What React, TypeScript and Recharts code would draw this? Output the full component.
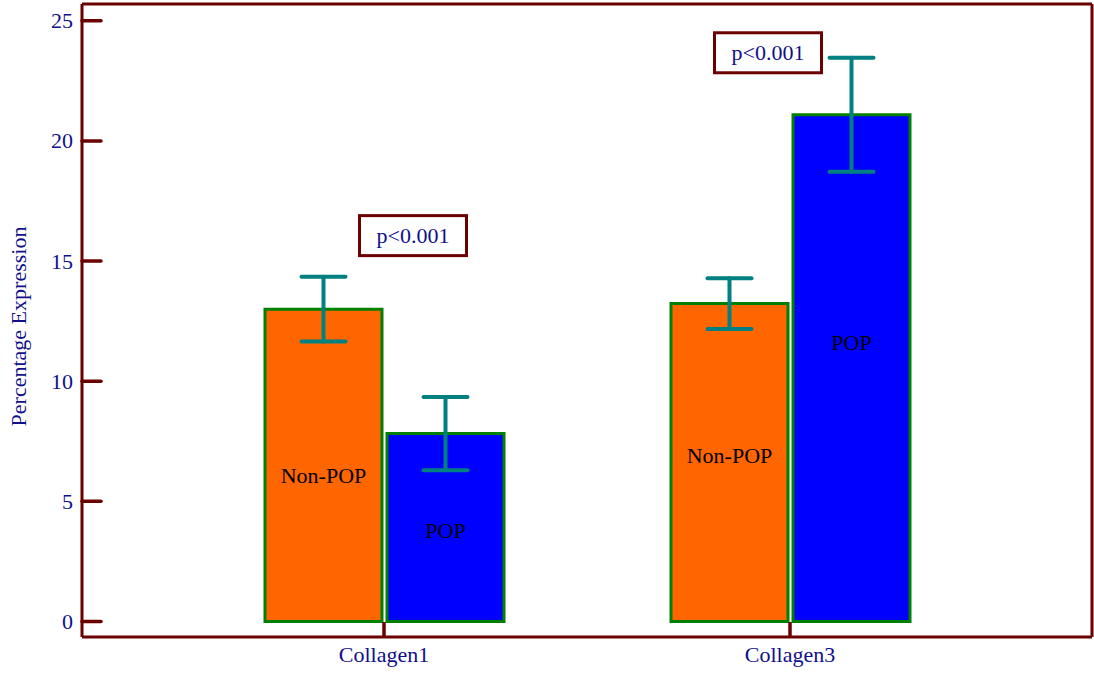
import {
  Bar,
  BarChart,
  ErrorBar,
  Label,
  LabelList,
  ReferenceDot,
  XAxis,
  YAxis,
} from 'recharts';

const categories = ['Collagen1', 'Collagen3'];
const seriesNames = ['Non-POP', 'POP'];
const nonPopValues = [13.0, 13.23];
const popValues = [7.82, 21.09];
const nonPopErrors = [1.35, 1.06];
const popErrors = [1.52, 2.37];
const nonPopLabelAt = [6.07, 6.9];
const popLabelAt = [3.79, 11.6];
const pValueLabels = ['p<0.001', 'p<0.001'];
const pValueAt = [16.06, 23.67];
const yTicks = [0, 5, 10, 15, 20, 25];
const yDomain: [number, number] = [-0.645, 25.7];

const data = categories.map((name, i) => ({
  name,
  nonPop: nonPopValues[i],
  pop: popValues[i],
  nonPopErr: nonPopErrors[i],
  popErr: popErrors[i],
}));

const FONT = '"Liberation Serif", "Times New Roman", serif';
const FRAME = '#6b0000';
const NAVY = '#10108a';
const TEAL = '#008080';

const YTick = (props: any) => {
  const { x, y, payload } = props;
  return (
    <g>
      <line x1={x} x2={x + 19} y1={y} y2={y} stroke={FRAME} strokeWidth={3.5} strokeLinecap="round" />
      <text x={x - 9} y={y} textAnchor="end" dominantBaseline="central" fill={NAVY} fontSize={22} fontFamily={FONT}>
        {payload.value}
      </text>
    </g>
  );
};

const XTick = (props: any) => {
  const { x, y, payload } = props;
  return (
    <g>
      <line x1={x} x2={x} y1={y} y2={y - 15} stroke={FRAME} strokeWidth={3.5} />
      <text x={x} y={y + 25} textAnchor="middle" fill={NAVY} fontSize={22} fontFamily={FONT}>
        {payload.value}
      </text>
    </g>
  );
};

const barLabel = (labelAt: number[], text: string) => (props: any) => {
  const { x, y, width, height, value, index } = props;
  const cy = y + height - (labelAt[index] * height) / value;
  return (
    <text x={x + width / 2} y={cy} textAnchor="middle" dominantBaseline="central" fill="#000" fontSize={22} fontFamily={FONT}>
      {text}
    </text>
  );
};

const pBoxShift = [29, -22];

const PBox = (i: number) => (props: any) => {
  const { cx, cy } = props;
  const bx = cx + pBoxShift[i];
  return (
    <g>
      <rect x={bx - 53.5} y={cy - 20} width={107} height={40} fill="#fff" stroke={FRAME} strokeWidth={3} />
      <text x={bx} y={cy} textAnchor="middle" dominantBaseline="central" fill={NAVY} fontSize={22} fontFamily={FONT}>
        {pValueLabels[i]}
      </text>
    </g>
  );
};

const frameLine = { stroke: FRAME, strokeWidth: 3 };

export default function App() {
  return (
    <div style={{ position: 'absolute', left: 0, top: 0, background: '#fff' }}>
      <BarChart
        width={1094}
        height={673}
        data={data}
        margin={{ top: 0, right: 0, left: 0, bottom: 0 }}
        barSize={117}
        barGap={5}
      >
        <XAxis
          dataKey="name"
          height={36}
          padding={{ left: 99, right: 99 }}
          axisLine={frameLine}
          tickLine={false}
          tickSize={0}
          tickMargin={0}
          tick={<XTick />}
        />
        <XAxis
          xAxisId="top"
          orientation="top"
          dataKey="name"
          height={4}
          axisLine={frameLine}
          tickLine={false}
          tick={false}
        />
        <YAxis
          width={82}
          type="number"
          domain={yDomain}
          ticks={yTicks}
          allowDataOverflow
          axisLine={frameLine}
          tickLine={false}
          tickSize={0}
          tickMargin={0}
          tick={<YTick />}
        >
          <Label
            content={({ viewBox }: any) => {
              const cx = viewBox.x + 18;
              const cy = viewBox.y + viewBox.height / 2 + 6;
              return (
                <text
                  x={cx}
                  y={cy}
                  transform={`rotate(-90 ${cx} ${cy})`}
                  textAnchor="middle"
                  dominantBaseline="central"
                  fill={NAVY}
                  fontSize={22}
                  fontFamily={FONT}
                >
                  Percentage Expression
                </text>
              );
            }}
          />
        </YAxis>
        <YAxis
          yAxisId="right"
          orientation="right"
          width={2}
          type="number"
          domain={yDomain}
          allowDataOverflow
          axisLine={frameLine}
          tickLine={false}
          tick={false}
        />
        <Bar dataKey="nonPop" name={seriesNames[0]} fill="#ff6600" stroke="#008000" strokeWidth={3} isAnimationActive={false}>
          <ErrorBar dataKey="nonPopErr" width={22} stroke={TEAL} strokeWidth={4} strokeLinecap="round" isAnimationActive={false} />
          <LabelList dataKey="nonPop" content={barLabel(nonPopLabelAt, seriesNames[0])} />
        </Bar>
        <Bar dataKey="pop" name={seriesNames[1]} fill="#0000ff" stroke="#008000" strokeWidth={3} isAnimationActive={false}>
          <ErrorBar dataKey="popErr" width={22} stroke={TEAL} strokeWidth={4} strokeLinecap="round" isAnimationActive={false} />
          <LabelList dataKey="pop" content={barLabel(popLabelAt, seriesNames[1])} />
        </Bar>
        {categories.map((c, i) => (
          <ReferenceDot key={c} x={c} y={pValueAt[i]} ifOverflow="visible" shape={PBox(i)} />
        ))}
      </BarChart>
    </div>
  );
}
